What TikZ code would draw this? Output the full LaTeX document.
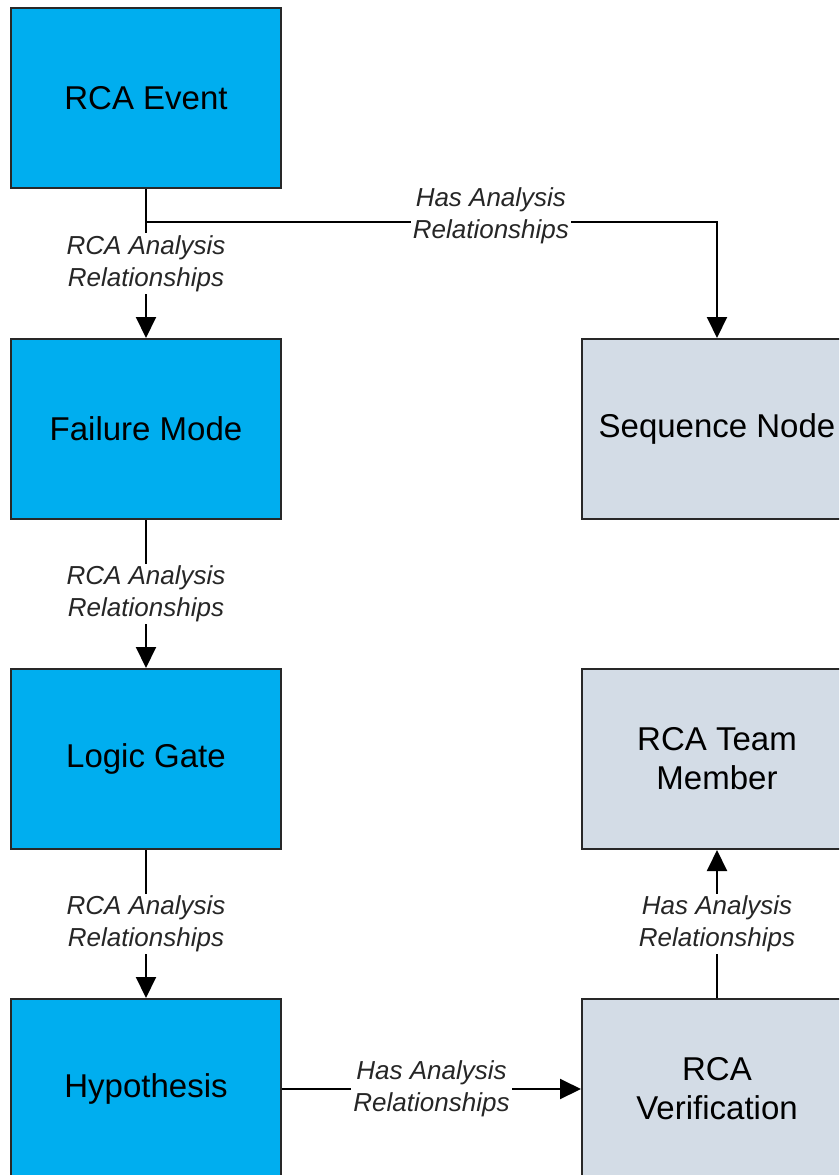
\documentclass[tikz,border=0pt]{standalone}
\usepackage{fontspec}
\setmainfont{Liberation Sans}
\usetikzlibrary{arrows.meta}
\definecolor{boxblue}{RGB}{0,174,239}
\definecolor{boxgray}{RGB}{211,220,230}
\definecolor{edgegray}{RGB}{40,40,40}
\tikzset{
  box/.style={draw=edgegray, line width=2pt, minimum width=270pt, minimum height=180pt,
    inner sep=0pt, align=center, font=\fontsize{33}{39}\selectfont},
  bluebox/.style={box, fill=boxblue},
  graybox/.style={box, fill=boxgray},
  conn/.style={draw=black, line width=2pt, -{Triangle[length=21pt,width=20pt]}},
  plain/.style={draw=black, line width=2pt},
  lbl/.style={fill=white, inner sep=2pt, align=center, text=black!85,
    font=\fontsize{26}{32}\selectfont\itshape}
}
\begin{document}
\begin{tikzpicture}[x=1pt,y=-1pt]
\useasboundingbox (0,0) rectangle (839,1175);
\clip (0,0) rectangle (839,1175);
\node[bluebox] (ev) at (146,98) {RCA Event};
\node[bluebox] (fm) at (146,429) {Failure Mode};
\node[bluebox] (lg) at (146,759) {Logic Gate};
\node[bluebox] (hy) at (146,1089) {Hypothesis};
\node[graybox] (sn) at (717,429) {Sequence Node};
\node[graybox] (tm) at (717,759) {RCA Team\\Member};
\node[graybox] (rv) at (717,1089) {RCA\\Verification};
\coordinate (br) at (146,222);
\draw[conn] (ev) -- node[lbl] {RCA Analysis\\Relationships} (fm);
\draw[conn] (br) -- node[lbl, pos=0.604, yshift=6pt] {Has Analysis\\Relationships} (br -| sn) -- (sn);
\draw[conn] (fm) -- node[lbl] {RCA Analysis\\Relationships} (lg);
\draw[conn] (lg) -- node[lbl] {RCA Analysis\\Relationships} (hy);
\draw[conn] (hy) -- node[lbl] {Has Analysis\\Relationships} (rv);
\draw[conn] (rv) -- node[lbl] {Has Analysis\\Relationships} (tm);
\end{tikzpicture}
\end{document}
